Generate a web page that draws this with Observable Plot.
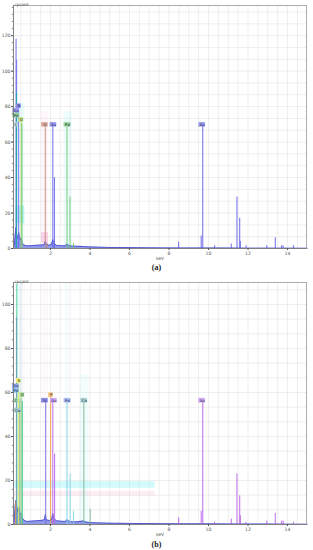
<!DOCTYPE html>
<html>
<head>
<meta charset="utf-8">
<script src="https://cdn.jsdelivr.net/npm/d3@7"></script>
<script src="https://cdn.jsdelivr.net/npm/@observablehq/plot@0.6"></script>
<style>
  html, body { margin: 0; padding: 0; background: #fff; }
  body { width: 313px; height: 550px; position: relative; overflow: hidden; font-family: "DejaVu Sans", sans-serif; }
  .panel { position: absolute; left: 0; }
  .cap { position: absolute; left: 0; width: 313px; text-align: center; font: bold 8px "Liberation Serif", serif; line-height: 10px; color: #222; }
</style>
</head>
<body>
<div id="pa" class="panel" style="top:0px"></div>
<div class="cap" style="top:263px">(a)</div>
<div id="pb" class="panel" style="top:277px"></div>
<div class="cap" style="top:540px">(b)</div>
<script>
// ---------- tick labels ----------
const xTicks = [2, 4, 6, 8, 10, 12, 14];
const yTicksA = [0, 20, 40, 60, 80, 100, 120];
const yTicksB = [0, 20, 40, 60, 80, 100];
const xGrid = [0.5,1,1.5,2,2.5,3,3.5,4,4.5,5,5.5,6,6.5,7,7.5,8,8.5,9,9.5,10,10.5,11,11.5,12,12.5,13,13.5,14,14.5];
const yGridA = [6.67,13.33,20,26.67,33.33,40,46.67,53.33,60,66.67,73.33,80,86.67,93.33,100,106.67,113.33,120,126.67,133.33];
const yGridB = [6.67,13.33,20,26.67,33.33,40,46.67,53.33,60,66.67,73.33,80,86.67,93.33,100,106.67];

// ---------- measured spectrum (background continuum) ----------
const specKeV = [0.13,0.18,0.22,0.26,0.30,0.34,0.40,0.46,0.52,0.58,0.65,0.80,1.0,1.3,1.6,1.70,1.74,1.80,1.95,2.06,2.12,2.18,2.30,2.50,2.75,2.84,2.92,3.0,3.3,3.69,3.8,4.0,4.5,5,6,7,8,9,10,11,12,13,14,15];
const specA   = [0,3,8,12,7,6,9,5,6,3,2,1.5,1.6,1.8,2.0,2.4,4.0,2.2,1.8,2.5,5.0,3.0,1.8,1.6,1.5,2.5,1.8,1.4,1.3,1.1,1.0,0.9,0.7,0.6,0.5,0.4,0.35,0.3,0.3,0.25,0.2,0.2,0.15,0.1];
const specB   = [0,4,9,11,8,6,8,5,5,3,2,1.4,1.5,1.7,1.9,2.3,4.5,2.1,1.8,2.4,5.0,2.8,1.7,1.5,1.4,2.2,1.7,1.3,1.2,1.6,1.1,0.9,0.7,0.6,0.5,0.4,0.35,0.3,0.3,0.25,0.2,0.2,0.15,0.1];

// ---------- element marker lines, panel (a) ----------
const mA_keV = [0.26,0.29,0.28,0.39,0.52,0.56,1.74,1.83,2.12,2.20,2.84,2.99,3.17,8.49,9.63,9.71,10.31,11.15,11.44,11.58,11.61,11.9,12.95,13.38,13.70,13.78,14.3];
const mA_cps = [118,106,88,80,73,70,70,3,70,40,70,29,3,3.5,7,70,1.5,2.5,29,17,4,1.5,1.5,6,1.5,1.5,1.5];
const mA_el  = ["Au","N","C","N","O","Pd","Si","Si","Au","Au","Pd","Pd","Pd","Au","Au","Au","Au","Au","Au","Au","Au","Au","Au","Au","Au","Au","Au"];
// ---------- element marker lines, panel (b) ----------
const mB_keV = [0.24,0.28,0.30,0.39,0.45,0.52,0.58,1.76,2.01,2.12,2.21,2.84,3.00,3.17,3.69,4.01,8.49,9.63,9.71,10.31,11.15,11.44,11.58,11.61,11.9,12.95,13.38,13.70,13.78,14.3];
const mB_cps = [10,94,109,65,57,59,56,56,59,56,32,56,23,6,56,7,3,6,56,1,2.5,23,13,4,1,1.5,5,1.5,1.5,1];
const mB_el  = ["P","Au","C","N","Ca","O","C","Si","P","Au","Au","Pd","Pd","Pd","Ca","Ca","Au","Au","Au","Au","Au","Au","Au","Au","Au","Au","Au","Au","Au","Au"];

// ---------- label boxes ----------
const lA_name = ["N","Au","Pd","O","C","Si","Au","Pd","Au"];
const lA_keV  = [0.40,0.26,0.26,0.52,0.26,1.72,2.15,2.86,9.68];
const lA_cps  = [80.5,78,75.2,72.7,70,70,70,70,70];
const lB_name = ["N","Au","Pd","O","C","Ca","Si","P","Au","Pd","Ca","Au"];
const lB_keV  = [0.40,0.25,0.25,0.57,0.26,0.35,1.72,2.03,2.17,2.86,3.71,9.68];
const lB_cps  = [65.5,63,61,59,56.5,52,56.5,59,56.5,56.5,56.5,56.5];

// ---------- faint ROI bands ----------
const bA_x1 = [0.25,1.55,2.70,0.25,1.55];
const bA_x2 = [0.70,1.90,3.10,0.70,1.90];
const bA_y1 = [0,0,0,14,3];
const bA_y2 = [82,77,77,24,9];
const bA_c  = ["#7fe8ee","#f6b8d8","#7fe8ee","#40e0e8","#f080c0"];
const bA_o  = [0.14,0.12,0.14,0.3,0.3];
const bB_x1 = [0.25,0.45,1.60,2.75,3.50,0.13,0.13];
const bB_x2 = [0.60,0.75,1.90,2.95,3.95,7.30,7.30];
const bB_y1 = [0,0,0,0,0,16.4,13];
const bB_y2 = [110,110,110,110,68,19.5,15];
const bB_c  = ["#7fe8ee","#f6b8d8","#f6b8d8","#7fe8ee","#7fe8ee","#40e8f0","#f6a8d0"];
const bB_o  = [0.12,0.08,0.07,0.08,0.1,0.22,0.2];

const colA = {Au:"#5c5ce6", N:"#6e6ef0", C:"#10b0a4", O:"#a8d050", Pd:"#6cc86c", Si:"#c08a7a"};
const boxA = {Au:"#9c9cf2", N:"#8c8cf0", C:"#b8dada", O:"#c4e476", Pd:"#96d896", Si:"#e2ae9e"};
const colB = {Au:"#b45ee6", N:"#e8e850", C:"#40c890", O:"#90d070", Pd:"#84d0e4", Si:"#6a6ae6", P:"#f09a38", Ca:"#78b490"};
const boxB = {Au:"#c8a4f2", N:"#f2f27a", C:"#9ed8a8", O:"#a8dc90", Pd:"#a8bcf2", Si:"#8c8ce8", P:"#f2c27e", Ca:"#a6cccc"};
const boxBTopLeft = {Au:"#94aaf2", Pd:"#94c4f2"};

function zip3(a, b, c, ka, kb, kc) { return a.map((v, i) => ({[ka]: v, [kb]: b[i], [kc]: c[i]})); }

function panel({yMax, yTicks, yGrid, spec, mK, mC, mE, col, lN, lK, lC, boxCol, bx1, bx2, by1, by2, bc, bo, height, topLeftBox}) {
  const spectrum = specKeV.map((e, i) => ({e, c: spec[i]}));
  const markers = zip3(mK, mC, mE, "e", "c", "el");
  const labels = lN.map((n, i) => ({n, e: lK[i], c: lC[i], left: lK[i] < 1}));
  const bands = bx1.map((v, i) => ({x1: v, x2: bx2[i], y1: by1[i], y2: by2[i], c: bc[i], o: bo[i]}));
  const yMinor = d3.range(0, yMax, 4);
  return Plot.plot({
    width: 313, height,
    marginTop: 5, marginBottom: 14, marginLeft: 13, marginRight: 7,
    style: {fontFamily: "DejaVu Sans, sans-serif", fontSize: "5px", color: "#555", background: "#fff"},
    x: {domain: [0.13, 14.96]},
    y: {domain: [0, yMax]},
    marks: [
      Plot.gridX(xGrid, {stroke: "#e4e4e4", strokeOpacity: 1, strokeWidth: 0.6}),
      Plot.gridY(yGrid, {stroke: "#e4e4e4", strokeOpacity: 1, strokeWidth: 0.6}),
      Plot.rect(bands, {x1: "x1", x2: "x2", y1: "y1", y2: "y2", fill: "c", fillOpacity: "o"}),
      Plot.areaY(spectrum, {x: "e", y: "c", fill: "#6a78e0", fillOpacity: 0.75}),
      Plot.lineY(spectrum, {x: "e", y: "c", stroke: "#3c3cc8", strokeWidth: 0.7}),
      Plot.ruleX(markers, {x: "e", y1: 0, y2: "c", stroke: d => col[d.el], strokeWidth: 0.9}),
      Plot.ruleY(labels, {y: "c", x1: d => d.e - (d.n.length > 1 ? 0.17 : 0.12), x2: d => d.e + (d.n.length > 1 ? 0.17 : 0.12),
        stroke: d => (d.left && topLeftBox && topLeftBox[d.n]) ? topLeftBox[d.n] : boxCol[d.n], strokeWidth: 4.6}),
      Plot.text(labels, {x: "e", y: "c", text: "n", fontSize: 3.8, fill: "#2a2a50", dy: 0.2}),
      Plot.frame({stroke: "#9a9a9a", strokeWidth: 0.8}),
      Plot.ruleX([0.13], {stroke: "#777", strokeWidth: 0.8}),
      Plot.ruleY([0], {stroke: "#777", strokeWidth: 0.8}),
      Plot.axisY(yMinor, {tickSize: 1.2, text: null, stroke: "#888"}),
      Plot.axisY(yTicks, {tickSize: 2, tickPadding: 1, fontSize: 4.6, fill: "#555", label: null}),
      Plot.axisX(xTicks, {tickSize: 2, tickPadding: 1.5, fontSize: 4.6, fill: "#555", label: null}),
      Plot.text(["keV"], {frameAnchor: "bottom", dy: 11, fontSize: 4.4, fill: "#555"}),
      Plot.text(["cps/eV"], {frameAnchor: "top-left", dy: -2.5, dx: 1, textAnchor: "start", fontSize: 4.2, fill: "#555"})
    ]
  });
}

document.getElementById("pa").append(panel({
  yMax: 137, yTicks: yTicksA, yGrid: yGridA, spec: specA,
  mK: mA_keV, mC: mA_cps, mE: mA_el, col: colA,
  lN: lA_name, lK: lA_keV, lC: lA_cps, boxCol: boxA,
  bx1: bA_x1, bx2: bA_x2, by1: bA_y1, by2: bA_y2, bc: bA_c, bo: bA_o, height: 262
}));
document.getElementById("pb").append(panel({
  yMax: 110, yTicks: yTicksB, yGrid: yGridB, spec: specB,
  mK: mB_keV, mC: mB_cps, mE: mB_el, col: colB,
  lN: lB_name, lK: lB_keV, lC: lB_cps, boxCol: boxB,
  bx1: bB_x1, bx2: bB_x2, by1: bB_y1, by2: bB_y2, bc: bB_c, bo: bB_o, height: 261, topLeftBox: boxBTopLeft
}));
</script>
</body>
</html>
